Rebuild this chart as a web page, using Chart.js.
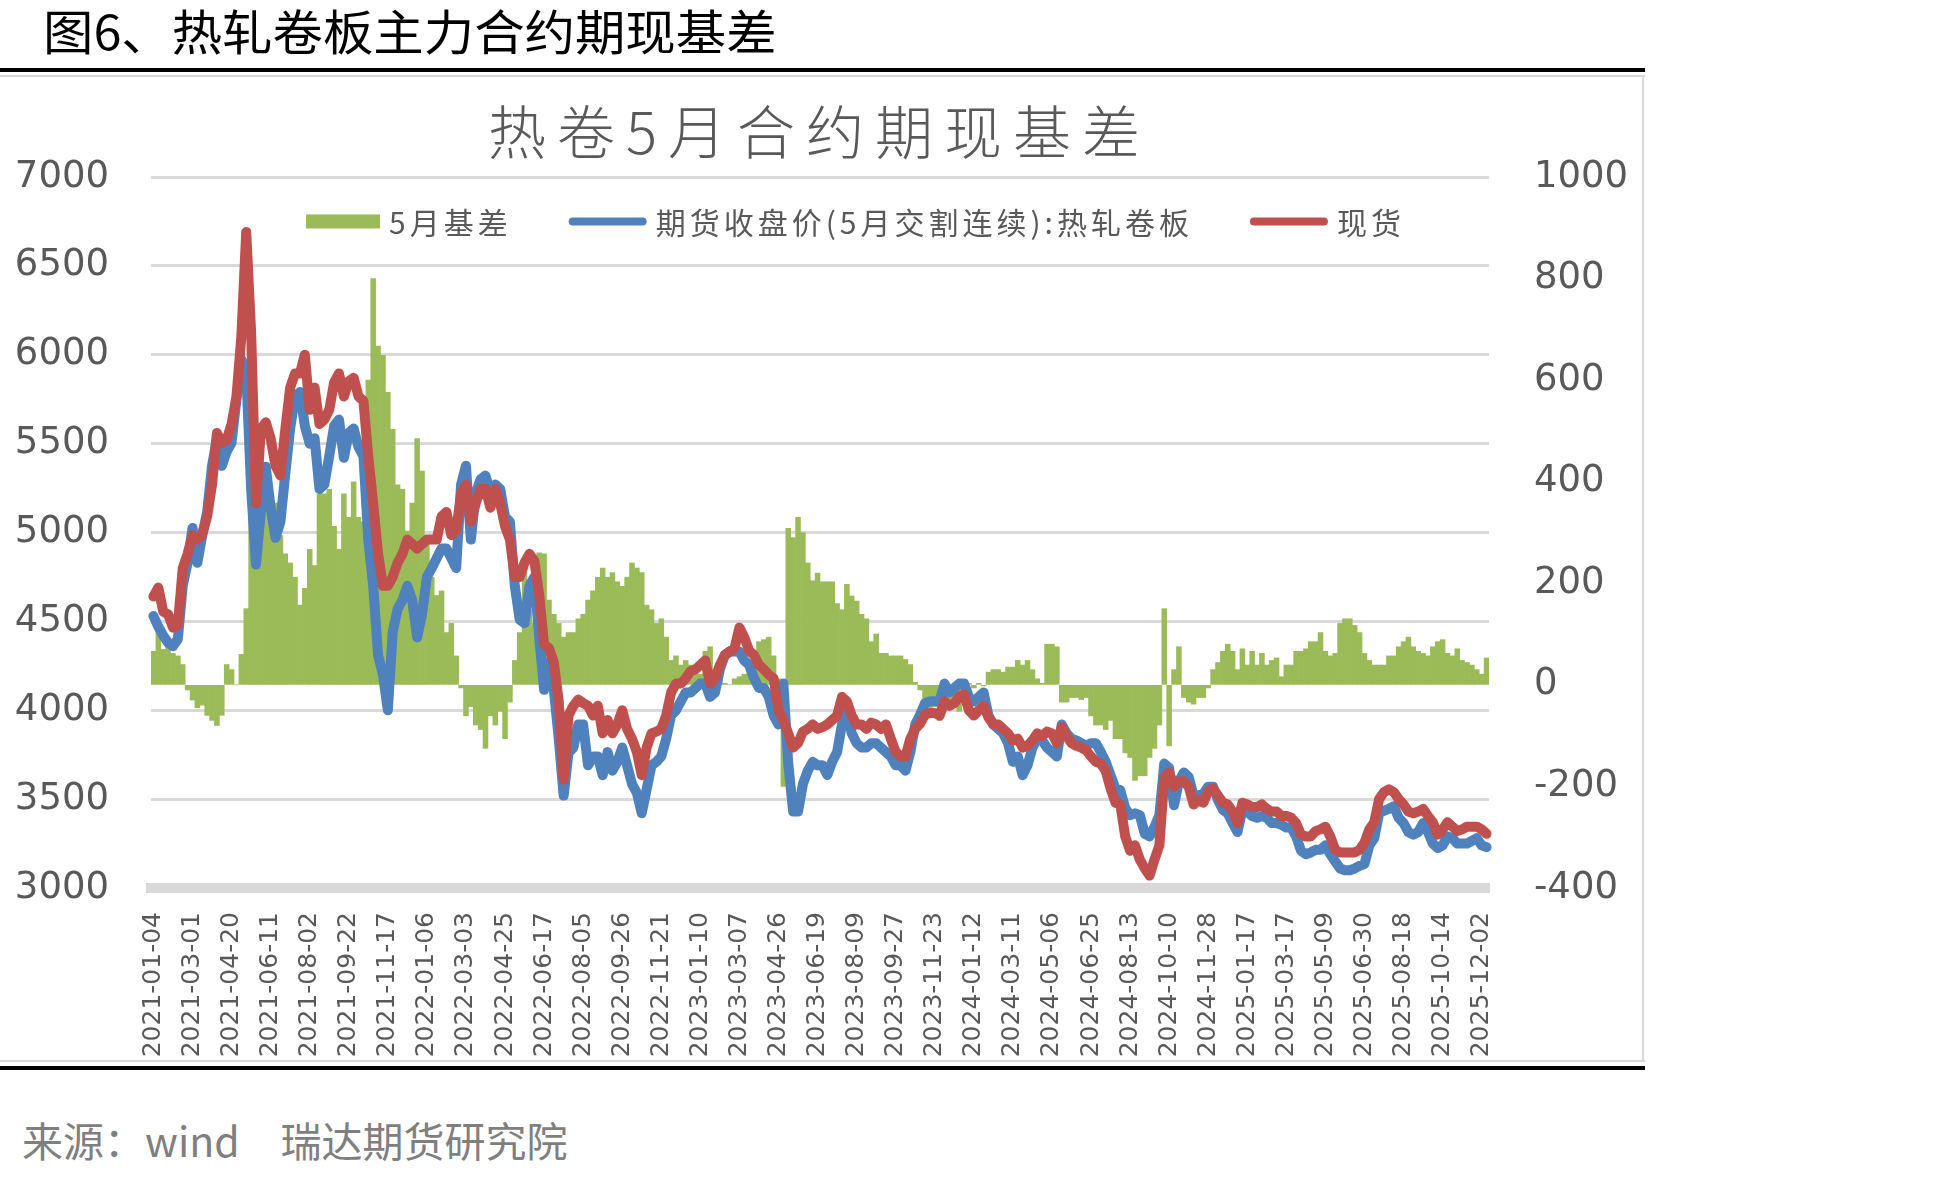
<!DOCTYPE html>
<html>
<head>
<meta charset="utf-8">
<script src="https://cdn.jsdelivr.net/npm/chart.js@4.4.1/dist/chart.umd.min.js"></script>
<style>
  html, body { margin: 0; padding: 0; background: #fff; }
  body { width: 1937px; height: 1178px; position: relative; overflow: hidden; font-family: "Noto Sans CJK SC", sans-serif; }
  #fig-title { position: absolute; left: 43px; top: 5px; font-size: 48px; line-height: 48px; color: #000; transform: scaleX(1.05); transform-origin: left top; white-space: nowrap; }
  .rule { position: absolute; }
  #chart-title { position: absolute; left: 488px; top: 100px; font-size: 58px; line-height: 58px; font-weight: 300; letter-spacing: 11px; color: #595959; white-space: nowrap; }
  #source { position: absolute; left: 22px; top: 1118px; font-size: 41px; line-height: 42px; color: #7f7f7f; white-space: nowrap; }
  #wrap { position: absolute; left: 0; top: 0; width: 1643px; height: 1060px; }
</style>
</head>
<body>
<div id="fig-title">图6、热轧卷板主力合约期现基差</div>
<div class="rule" style="left:0;top:68px;width:1645px;height:4px;background:#000"></div>
<div class="rule" style="left:0;top:75px;width:1645px;height:2px;background:#d9d9d9"></div>
<div class="rule" style="left:1642px;top:75px;width:2px;height:987px;background:#d9d9d9"></div>
<div class="rule" style="left:0;top:1060px;width:1645px;height:2px;background:#d9d9d9"></div>
<div class="rule" style="left:0;top:1066px;width:1645px;height:4px;background:#000"></div>
<div id="wrap"><canvas id="basisChart"></canvas></div>
<div id="chart-title">热卷5月合约期现基差</div>
<div id="source">来源：wind　瑞达期货研究院</div>
<script>
var tickLabels = ['2021-01-04', '2021-03-01', '2021-04-20', '2021-06-11', '2021-08-02', '2021-09-22', '2021-11-17',
    '2022-01-06', '2022-03-03', '2022-04-25', '2022-06-17', '2022-08-05', '2022-09-26', '2022-11-21',
    '2023-01-10', '2023-03-07', '2023-04-26', '2023-06-19', '2023-08-09', '2023-09-27', '2023-11-23',
    '2024-01-12', '2024-03-11', '2024-05-06', '2024-06-25', '2024-08-13', '2024-10-10', '2024-11-28',
    '2025-01-17', '2025-03-17', '2025-05-09', '2025-06-30', '2025-08-18', '2025-10-14', '2025-12-02'];

// points read between two date labels
var pointsPerTick = 8;

var basis = [
    66, 110, 70, 75, 62, 57, 40, -10, -30, -45,
    -40, -60, -70, -80, -60, 40, 30, 0, 60, 150,
    394, 390, 467, 412, 376, 358, 294, 258, 240, 212,
    157, 190, 267, 235, 376, 376, 385, 312, 267, 376,
    330, 400, 330, 321, 600, 800, 667, 649, 576, 503,
    394, 385, 303, 358, 485, 421, 285, 212, 176, 185,
    103, 121, 57, -6, -61, -43, -79, -88, -125, -61,
    -79, -52, -106, -34, 48, 103, 250, 148, 121, 260,
    258, 167, 139, 121, 94, 103, 103, 130, 139, 167,
    185, 212, 230, 212, 221, 203, 194, 212, 240, 230,
    221, 157, 148, 121, 130, 94, 48, 57, 39, 48,
    39, 30, 21, 66, 75, 30, 12, 3, 0, 12,
    16, 21, 30, 57, 85, 89, 94, 57, 12, -200,
    308, 290, 330, 300, 240, 205, 220, 203, 203, 203,
    160, 148, 198, 175, 165, 139, 130, 85, 100, 62,
    62, 57, 57, 57, 50, 40, 5, -10, -34, -61,
    -43, -70, -25, -34, -25, -52, -34, 3, -6, 3,
    -2, 25, 30, 30, 25, 35, 35, 48, 39, 48,
    30, 12, 3, 80, 80, 75, -34, -34, -25, -25,
    -29, -25, -61, -79, -79, -88, -70, -106, -106, -134,
    -143, -188, -179, -179, -143, -125, -79, 150, -120, 30,
    75, -25, -34, -38, -25, -25, -6, 30, 44, 66,
    80, 66, 30, 71, 39, 66, 39, 62, 39, 48,
    53, 16, 39, 39, 66, 66, 71, 85, 85, 103,
    66, 57, 62, 121, 130, 130, 117, 103, 62, 48,
    39, 39, 39, 57, 57, 75, 85, 94, 75, 66,
    62, 57, 75, 85, 89, 62, 57, 71, 48, 44,
    39, 30, 21, 53];

var futuresClose = [
    4530, 4470, 4420, 4380, 4360, 4400, 4700, 4830, 5025, 4830,
    4985, 5115, 5375, 5530, 5375, 5455, 5505, 5750, 5975, 5900,
    5250, 4820, 5120, 5370, 5140, 4970, 5060, 5330, 5585, 5765,
    5790, 5600, 5500, 5530, 5245, 5270, 5430, 5600, 5635, 5420,
    5560, 5585, 5480, 5430, 4960, 4700, 4310, 4200, 4000, 4440,
    4570, 4620, 4700, 4620, 4410, 4540, 4750, 4800, 4855, 4910,
    4910, 4855, 4800, 5270, 5375, 4960, 5220, 5300, 5320, 5220,
    5270, 5245, 5090, 5060, 4700, 4510, 4490, 4700, 4750, 4410,
    4115, 4270, 4115, 3840, 3520, 3760, 3790, 3920, 3920, 3690,
    3740, 3740, 3635, 3765, 3660, 3710, 3790, 3690, 3585, 3535,
    3420, 3555, 3690, 3710, 3740, 3840, 3970, 4000, 4050, 4100,
    4100, 4125, 4150, 4150, 4075, 4100, 4230, 4310, 4330, 4330,
    4330, 4280, 4255, 4180, 4125, 4125, 4075, 3970, 3920, 4150,
    3700, 3430, 3430, 3585, 3660, 3710, 3690, 3690, 3635, 3710,
    3765, 3920, 4000, 3870, 3815, 3790, 3790, 3815, 3815, 3790,
    3765, 3740, 3690, 3690, 3660, 3765, 3920, 3975, 4040, 4050,
    4050, 4050, 4150, 4100, 4125, 4150, 4150, 4075, 4050, 4075,
    4100, 3970, 3920, 3895, 3870, 3815, 3710, 3740, 3635, 3690,
    3790, 3840, 3830, 3790, 3765, 3740, 3920, 3870, 3840, 3830,
    3815, 3800, 3815, 3815, 3765, 3710, 3635, 3560, 3550, 3450,
    3410, 3420, 3410, 3305, 3290, 3345, 3410, 3700, 3675, 3465,
    3600, 3650, 3625, 3520, 3520, 3530, 3570, 3570, 3495, 3440,
    3420, 3365, 3315, 3440, 3430, 3405, 3395, 3405, 3395, 3365,
    3365, 3355, 3340, 3340, 3290, 3210, 3190, 3200, 3215, 3215,
    3240, 3190, 3150, 3110, 3100, 3100, 3110, 3125, 3135, 3240,
    3280, 3420, 3435, 3445, 3460, 3395, 3365, 3315, 3300, 3315,
    3365, 3315, 3250, 3225, 3240, 3290, 3280, 3250, 3250, 3250,
    3265, 3280, 3240, 3230];

var spotPrice = [
    4640, 4690, 4555, 4540, 4465, 4480, 4800, 4880, 4985, 4960,
    4990, 5090, 5270, 5560, 5505, 5520, 5610, 5765, 6100, 6690,
    6130, 5165, 5580, 5620, 5530, 5375, 5320, 5580, 5815, 5895,
    5895, 6000, 5690, 5815, 5610, 5635, 5690, 5845, 5895, 5765,
    5850, 5870, 5765, 5740, 5425, 5165, 4880, 4700, 4700, 4750,
    4830, 4880, 4960, 4935, 4910, 4935, 4960, 4960, 4960, 5090,
    5115, 4985, 5010, 5220, 5270, 5060, 5165, 5245, 5245, 5140,
    5245, 5165, 5035, 4960, 4750, 4750, 4830, 4880, 4840, 4650,
    4370, 4350, 4270, 4050, 3610, 3970, 4025, 4060, 4040, 4025,
    3970, 4025, 3870, 3945, 3870, 3920, 4000, 3895, 3840, 3765,
    3635, 3790, 3870, 3880, 3895, 3970, 4100, 4150, 4150, 4180,
    4220, 4230, 4255, 4280, 4150, 4180, 4255, 4310, 4330, 4350,
    4465, 4410, 4335, 4310, 4255, 4230, 4200, 4180, 4000, 3945,
    3870, 3790, 3815, 3880, 3895, 3920, 3895, 3905, 3920, 3945,
    3970, 4075, 4050, 3970, 3920, 3920, 3895, 3930, 3920, 3895,
    3920, 3840, 3765, 3740, 3740, 3840, 3895, 3925, 3975, 3985,
    3985, 3970, 4050, 4025, 4040, 4075, 4090, 4000, 3970, 4000,
    4025, 3960, 3920, 3920, 3895, 3870, 3830, 3840, 3790, 3800,
    3830, 3870, 3855, 3880, 3870, 3815, 3905, 3855, 3815, 3800,
    3790, 3775, 3740, 3710, 3700, 3660, 3560, 3480, 3470, 3290,
    3210, 3240, 3160, 3110, 3070, 3160, 3240, 3620, 3650, 3570,
    3600, 3600, 3570, 3470, 3495, 3480, 3545, 3560, 3520, 3480,
    3470, 3430, 3365, 3480, 3470, 3455, 3455, 3470, 3445, 3430,
    3430, 3405, 3405, 3395, 3365, 3300, 3290, 3290, 3320, 3330,
    3345, 3290, 3215, 3200, 3200, 3200, 3200, 3215, 3255, 3330,
    3370, 3500, 3540, 3555, 3540, 3500, 3470, 3430, 3420, 3430,
    3445, 3405, 3370, 3300, 3330, 3370, 3345, 3320, 3330, 3345,
    3345, 3345, 3330, 3305];

// one category per point, only every 8th one carries a date
var categories = basis.map(function (v, i) {
    return i % pointsPerTick === 0 ? (tickLabels[i / pointsPerTick] || '') : '';
});

// legend sits inside the plot, between the 7000 and 6500 grid lines
var inlineLegend = {
    id: 'inlineLegend',
    afterDraw: function (chart) {
        var ctx = chart.ctx;
        var y = chart.scales.y.getPixelForValue(6750);
        var x = 306;
        ctx.save();
        ctx.font = '30px "Noto Sans CJK SC"';
        ctx.letterSpacing = '4px';
        ctx.textBaseline = 'middle';
        ctx.textAlign = 'left';
        chart.data.datasets.forEach(function (ds) {
            if (ds.type === 'line') {
                ctx.strokeStyle = ds.borderColor;
                ctx.lineWidth = 8;
                ctx.lineCap = 'round';
                ctx.beginPath();
                ctx.moveTo(x + 4, y);
                ctx.lineTo(x + 74, y);
                ctx.stroke();
                x += 78;
            } else {
                ctx.fillStyle = ds.backgroundColor;
                ctx.fillRect(x, y - 7, 74, 14);
                x += 74;
            }
            x += 9;
            ctx.fillStyle = '#595959';
            ctx.fillText(ds.label, x, y + 1);
            x += ctx.measureText(ds.label).width + 57;
        });
        ctx.restore();
    }
};

var numFont = { family: 'DejaVu Sans', size: 37 };
var plainNumber = function (value) { return String(value); };

var ctxBasis = document.getElementById('basisChart').getContext('2d');
var basisChart = new Chart(ctxBasis, {
    type: 'bar',
    data: {
        labels: categories,
        datasets: [{
            type: 'bar',
            label: '5月基差',
            data: basis,
            yAxisID: 'y1',
            backgroundColor: '#9bbb59',
            borderWidth: 0,
            barPercentage: 1,
            categoryPercentage: 1,
            order: 3
        }, {
            type: 'line',
            label: '期货收盘价(5月交割连续):热轧卷板',
            data: futuresClose,
            yAxisID: 'y',
            borderColor: '#4f81bd',
            backgroundColor: '#4f81bd',
            borderWidth: 10,
            pointRadius: 0,
            tension: 0,
            borderJoinStyle: 'round',
            borderCapStyle: 'round',
            order: 2
        }, {
            type: 'line',
            label: '现货',
            data: spotPrice,
            yAxisID: 'y',
            borderColor: '#c0504d',
            backgroundColor: '#c0504d',
            borderWidth: 10,
            pointRadius: 0,
            tension: 0,
            borderJoinStyle: 'round',
            borderCapStyle: 'round',
            order: 1
        }]
    },
    options: {
        responsive: true,
        maintainAspectRatio: false,
        animation: false,
        devicePixelRatio: 1,
        layout: { padding: { top: 177, left: 0, right: 0, bottom: 0 } },
        plugins: {
            legend: { display: false },
            tooltip: { enabled: false }
        },
        scales: {
            x: {
                ticks: {
                    autoSkip: false,
                    maxRotation: 90,
                    minRotation: 90,
                    padding: 24,
                    color: '#595959',
                    font: { family: 'DejaVu Sans', size: 25 }
                },
                grid: { display: true, drawOnChartArea: false, drawTicks: false },
                border: { display: true, color: '#d9d9d9', width: 10 },
                afterFit: function (scale) { scale.height = 172; }
            },
            y: {
                position: 'left',
                min: 3000,
                max: 7000,
                ticks: { stepSize: 500, padding: 42, color: '#595959', font: numFont, callback: plainNumber },
                grid: { color: '#d9d9d9', lineWidth: 3, drawTicks: false },
                border: { display: false },
                afterFit: function (scale) { scale.width = 151; }
            },
            y1: {
                position: 'right',
                min: -400,
                max: 1000,
                ticks: { stepSize: 200, padding: 45, color: '#595959', font: numFont, callback: plainNumber },
                grid: { drawOnChartArea: false, drawTicks: false },
                border: { display: false },
                afterFit: function (scale) { scale.width = 154; }
            }
        }
    },
    plugins: [inlineLegend]
});
</script>
</body>
</html>
